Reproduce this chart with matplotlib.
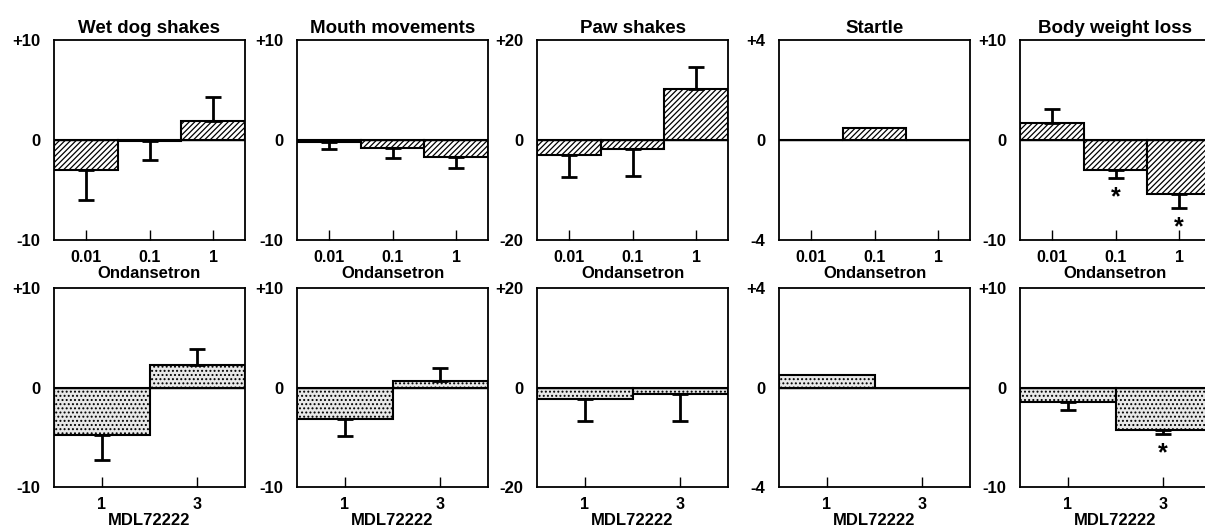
import matplotlib.pyplot as plt

plt.rcParams['font.family'] = ['Liberation Sans', 'DejaVu Sans']
plt.rcParams['font.weight'] = 'bold'
plt.rcParams['hatch.linewidth'] = 0.9

# --------------------------------------
# data (change in each measure vs. control)

titles = ["Wet dog shakes", "Mouth movements", "Paw shakes", "Startle", "Body weight loss"]
limits = [10, 10, 20, 4, 10]

ond_doses = ["0.01", "0.1", "1"]
mdl_doses = ["1", "3"]

wds_ond = [-3.0, -0.1, 1.9]
wds_ond_sem = [3.0, 1.9, 2.4]
mouth_ond = [-0.2, -0.8, -1.7]
mouth_ond_sem = [0.7, 1.0, 1.1]
paw_ond = [-2.9, -1.8, 10.3]
paw_ond_sem = [4.5, 5.3, 4.3]
startle_ond = [0.0, 0.5, 0.0]
startle_ond_sem = [0, 0, 0]
bw_ond = [1.7, -3.0, -5.4]
bw_ond_sem = [1.4, 0.8, 1.4]
bw_ond_sig = [False, True, True]

wds_mdl = [-4.8, 2.3]
wds_mdl_sem = [2.5, 1.6]
mouth_mdl = [-3.2, 0.65]
mouth_mdl_sem = [1.7, 1.35]
paw_mdl = [-2.3, -1.3]
paw_mdl_sem = [4.4, 5.4]
startle_mdl = [0.5, 0.0]
startle_mdl_sem = [0, 0]
bw_mdl = [-1.5, -4.25]
bw_mdl_sem = [0.75, 0.45]
bw_mdl_sig = [False, True]

top_row = [(wds_ond, wds_ond_sem, None), (mouth_ond, mouth_ond_sem, None),
           (paw_ond, paw_ond_sem, None), (startle_ond, startle_ond_sem, None),
           (bw_ond, bw_ond_sem, bw_ond_sig)]
bottom_row = [(wds_mdl, wds_mdl_sem, None), (mouth_mdl, mouth_mdl_sem, None),
              (paw_mdl, paw_mdl_sem, None), (startle_mdl, startle_mdl_sem, None),
              (bw_mdl, bw_mdl_sem, bw_mdl_sig)]

# --------------------------------------

W, H = 1205, 532
lefts = [54, 297, 537, 779, 1020]
width = 191


def plot_panel(ax, means, sems, sig, labels, lim, hatch, face, xlabel):
    x = list(range(len(means)))
    ax.bar(x, means, width=1.0, color=face, edgecolor="black", hatch=hatch,
           linewidth=1.5, zorder=2)
    ax.axhline(0, color="black", linewidth=1.0, zorder=3)
    for xi, m, s in zip(x, means, sems):
        if s > 0:
            if m >= 0:
                err = [[0], [s]]
            else:
                err = [[s], [0]]
            ax.errorbar([xi], [m], yerr=err, fmt="none", ecolor="black",
                        elinewidth=2.0, capsize=5.5, capthick=2.0, zorder=4)
    if sig is not None:
        for xi, m, s, flag in zip(x, means, sems, sig):
            if flag:
                ax.text(xi, m - s - 0.07 * lim, "*", ha="center", va="top",
                        fontsize=18, fontweight="bold")
    ax.set_xlim(-0.5, len(means) - 0.5)
    ax.set_ylim(-lim, lim)
    ax.set_xticks(x)
    ax.set_xticklabels(labels, fontsize=11.5, fontweight="bold")
    ax.set_yticks([-lim, 0, lim])
    ax.set_yticklabels(["-%d" % lim, "0", "+%d" % lim], fontsize=12, fontweight="bold")
    ax.tick_params(axis="x", direction="in", length=7, width=1, pad=7)
    ax.tick_params(axis="y", length=0, pad=10)
    ax.set_xlabel(xlabel, fontsize=12, fontweight="bold", labelpad=1)
    for sp in ax.spines.values():
        sp.set_linewidth(1.3)


fig = plt.figure(figsize=(12.05, 5.32), dpi=100)

for i in range(5):
    ax = fig.add_axes([lefts[i] / W, (H - 240) / H, width / W, 200 / H])
    means, sems, sig = top_row[i]
    plot_panel(ax, means, sems, sig, ond_doses, limits[i], "//////", "white", "Ondansetron")
    ax.set_title(titles[i], fontsize=13.5, fontweight="bold", pad=5)

    ax2 = fig.add_axes([lefts[i] / W, (H - 487) / H, width / W, 199 / H])
    means, sems, sig = bottom_row[i]
    plot_panel(ax2, means, sems, sig, mdl_doses, limits[i], "....", "#e8e8e8", "MDL72222")

fig.savefig("out.png", dpi=100)
